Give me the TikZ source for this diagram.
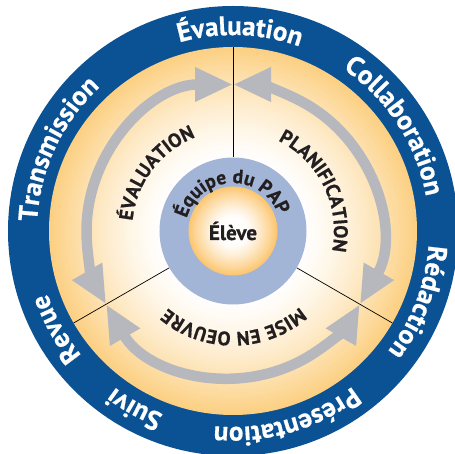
\documentclass[tikz,border=0pt]{standalone}
\usepackage{fontspec}
\setmainfont{PT Sans}[BoldFeatures={FakeBold=0.6}]
\usetikzlibrary{decorations.text,arrows.meta}
\definecolor{ringblue}{RGB}{10,82,148}
\definecolor{papblue}{RGB}{163,181,214}
\definecolor{arrowgray}{RGB}{183,184,190}
\definecolor{ylw}{RGB}{252,208,130}
\definecolor{ylwB}{RGB}{252,198,112}
\definecolor{ink}{RGB}{35,31,32}
\newcommand\outerfnt{\fontsize{27}{27}\selectfont\bfseries}
\newcommand\innerfnt{\fontsize{19.5}{19.5}\selectfont\bfseries}
\newcommand\papfnt{\fontsize{19.5}{19.5}\selectfont\bfseries}
% angle, radius, half span, format, text, colour
\newcommand\arctext[6]{\path[decorate,decoration={text along path,text align=center,text color=#6,text={|#4|#5}}] ({#1+#3}:#2) arc[start angle={#1+#3},end angle={#1-#3},radius=#2];}
\tikzset{
  grayarrow/.style={draw=arrowgray,line width=10.5pt,
    {Triangle[length=38pt,width=32pt]}-{Triangle[length=38pt,width=32pt]}},
  sector/.style={draw=black,line width=0.7pt}
}
\begin{document}
\begin{tikzpicture}[x=1pt,y=1pt]
\useasboundingbox (-233,-223) rectangle (222,231);
% outer blue ring
\fill[ringblue] (0,0) circle (225);
% yellow disk with radial gradient
\foreach \i in {0,...,59}{
  \pgfmathsetmacro\myr{184-\i*114/60}
  \pgfmathtruncatemacro\mixv{100*(1-\i/60)^1.3}
  \fill[ylw!\mixv!white] (0,0) circle (\myr);
}
% sector lines
\coordinate (a1) at (90:73.5);  \coordinate (b1) at (90:184);
\coordinate (a2) at (210:73.5); \coordinate (b2) at (210:184);
\coordinate (a3) at (330:73.5); \coordinate (b3) at (330:184);
% gray arrows
\draw[grayarrow] (90:146.5) arc[start angle=90,end angle=210,radius=146.5];
\draw[grayarrow] (210:146.5) arc[start angle=210,end angle=330,radius=146.5];
\draw[grayarrow] (-30:146.5) arc[start angle=-30,end angle=90,radius=146.5];
\draw[sector] (a1) -- (b1);
\draw[sector] (a2) -- (b2);
\draw[sector] (a3) -- (b3);
% PAP ring
\fill[papblue] (0,0) circle (73.5);
\foreach \i in {0,...,29}{
  \pgfmathsetmacro\myr{44.5-\i*32/30}
  \pgfmathtruncatemacro\mixv{100*(1-\i/30)^1.3}
  \fill[ylwB!\mixv!white] (0,0) circle (\myr);
}
\node[font=\fontsize{21}{21}\selectfont\bfseries,text=ink] (eleve) at (0,0) {Élève};
% outer ring texts
\arctext{88}{196}{60}{\outerfnt}{Évaluation}{white}
\arctext{33}{196}{60}{\outerfnt}{Collaboration}{white}
\arctext{-21}{196}{60}{\outerfnt}{Rédaction}{white}
\arctext{-74}{196}{60}{\outerfnt}{Présentation}{white}
\arctext{-119}{196}{60}{\outerfnt}{Suivi}{white}
\arctext{-151}{196}{60}{\outerfnt}{Revue}{white}
\arctext{155}{196}{60}{\outerfnt}{Transmission}{white}
% inner texts
\arctext{143}{101}{70}{\innerfnt}{ÉVALUATION}{ink}
\arctext{26}{101}{70}{\innerfnt}{PLANIFICATION}{ink}
\arctext{-89.5}{101}{70}{\innerfnt}{MISE EN OEUVRE}{ink}
\arctext{92}{48}{88}{\papfnt}{Équipe du PAP}{ink}
\end{tikzpicture}
\end{document}
